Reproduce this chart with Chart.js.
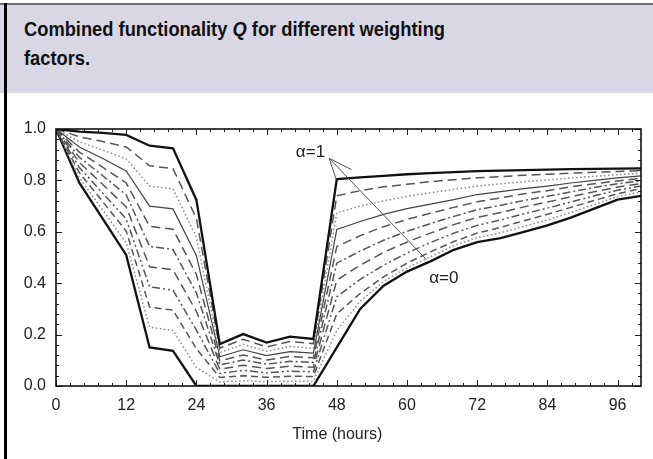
<!DOCTYPE html>
<html><head><meta charset="utf-8">
<script src="https://cdn.jsdelivr.net/npm/chart.js@4.4.1/dist/chart.umd.min.js"></script>
<style>
html,body{margin:0;padding:0;background:#fff;}
#wrap{position:relative;width:653px;height:459px;overflow:hidden;background:#fff;}
#topline{position:absolute;left:0;top:3px;width:653px;height:2px;background:#6f6f6f;}
#band{position:absolute;left:0;top:5px;width:653px;height:88px;background:#d9d7e6;}
#leftbar{position:absolute;left:4px;top:3px;width:3px;height:456px;background:#000;}
#title{position:absolute;left:24px;top:15px;font-family:"Liberation Sans",Arial,sans-serif;font-weight:bold;font-size:20px;line-height:29px;color:#111;white-space:nowrap;transform-origin:0 0;}
#cv{position:absolute;left:8px;top:92px;}
</style></head>
<body><div id="wrap">
<div id="band"></div><div id="topline"></div><div id="leftbar"></div>
<div id="title"><span id="l1">Combined functionality <i>Q</i> for different weighting</span><br>factors.</div>
<canvas id="cv" width="645" height="367"></canvas>
</div>
<script>
(function(){const w=document.getElementById('l1').getBoundingClientRect().width;document.getElementById('title').style.transform='scaleX('+(421/w)+')';})();

const hours = [0,4,8,12,16,20,24,28,32,36,40,44,48,52,56,60,64,68,72,76,80,84,88,92,96,100];
const xTickValues = [0,12,24,36,48,60,72,84,96];
const yTickValues = [0,0.2,0.4,0.6,0.8,1.0];
const alphaLabels = ["α=1","α=0"];
const xAxisTitle = "Time (hours)";
const q10 = [1.00,0.990,0.985,0.977,0.935,0.925,0.724,0.163,0.202,0.169,0.192,0.183,0.805,0.812,0.818,0.824,0.828,0.832,0.836,0.838,0.840,0.842,0.844,0.845,0.846,0.847];
const q09 = [1.00,0.970,0.951,0.930,0.857,0.846,0.652,0.147,0.182,0.152,0.173,0.165,0.740,0.760,0.775,0.785,0.795,0.803,0.810,0.815,0.820,0.824,0.828,0.832,0.835,0.838];
const q08 = [1.00,0.950,0.918,0.884,0.778,0.767,0.579,0.130,0.162,0.135,0.154,0.146,0.674,0.700,0.720,0.738,0.752,0.765,0.778,0.787,0.795,0.802,0.809,0.816,0.822,0.828];
const q07 = [1.00,0.930,0.885,0.837,0.700,0.689,0.507,0.114,0.141,0.118,0.134,0.128,0.609,0.640,0.668,0.690,0.708,0.725,0.745,0.756,0.768,0.778,0.790,0.800,0.810,0.818];
const q06 = [1.00,0.910,0.851,0.790,0.621,0.610,0.434,0.098,0.121,0.101,0.115,0.110,0.543,0.585,0.620,0.648,0.672,0.695,0.717,0.732,0.748,0.760,0.775,0.787,0.798,0.808];
const q05 = [1.00,0.890,0.818,0.744,0.543,0.531,0.362,0.082,0.101,0.085,0.096,0.092,0.478,0.525,0.567,0.602,0.632,0.660,0.686,0.703,0.722,0.738,0.755,0.772,0.787,0.798];
const q04 = [1.00,0.870,0.784,0.697,0.464,0.452,0.290,0.065,0.081,0.068,0.077,0.073,0.412,0.470,0.520,0.560,0.595,0.628,0.656,0.675,0.697,0.716,0.736,0.756,0.774,0.788];
const q03 = [1.00,0.850,0.750,0.650,0.386,0.373,0.217,0.049,0.061,0.051,0.058,0.055,0.347,0.415,0.470,0.517,0.558,0.595,0.625,0.646,0.670,0.692,0.716,0.740,0.762,0.778];
const q02 = [1.00,0.830,0.717,0.603,0.307,0.295,0.145,0.033,0.040,0.034,0.038,0.037,0.281,0.360,0.425,0.478,0.522,0.562,0.595,0.617,0.643,0.668,0.695,0.722,0.748,0.768];
const q01 = [1.00,0.810,0.684,0.557,0.229,0.216,0.072,0.016,0.020,0.017,0.019,0.018,0.216,0.330,0.407,0.460,0.503,0.546,0.577,0.596,0.621,0.646,0.675,0.706,0.737,0.755];
const q00 = [1.00,0.790,0.650,0.510,0.150,0.137,0.000,0.000,0.000,0.000,0.000,0.000,0.150,0.300,0.390,0.445,0.485,0.530,0.560,0.575,0.600,0.625,0.655,0.690,0.725,0.740];

const seriesList = [q10,q09,q08,q07,q06,q05,q04,q03,q02,q01,q00];
const seriesNames = ["α=1","α=0.9","α=0.8","α=0.7","α=0.6","α=0.5","α=0.4","α=0.3","α=0.2","α=0.1","α=0"];
const styles = [
  {c:'#111',w:2.3,d:[]},
  {c:'#555',w:1.5,d:[9,5]},
  {c:'#888',w:1.5,d:[1.5,2.5]},
  {c:'#444',w:1.2,d:[]},
  {c:'#555',w:1.5,d:[9,5]},
  {c:'#555',w:1.5,d:[8,3,2,3]},
  {c:'#555',w:1.5,d:[9,5]},
  {c:'#555',w:1.5,d:[8,3,2,3,2,3]},
  {c:'#555',w:1.5,d:[7,4]},
  {c:'#888',w:1.5,d:[1.5,2.5]},
  {c:'#111',w:2.3,d:[]}
];
const datasets = seriesList.map((s,i)=>({
  label: seriesNames[i],
  data: hours.map((h,j)=>({x:h,y:s[j]})),
  borderColor: styles[i].c, borderWidth: styles[i].w, borderDash: styles[i].d,
  pointRadius:0, tension:0, fill:false
}));

const framePlugin = {
  id:'frame',
  afterDatasetsDraw(chart){
    const {ctx, chartArea:a, scales:{x,y}} = chart;
    ctx.save();
    ctx.strokeStyle='#222'; ctx.lineWidth=1;
    for(let i=0;i<=45;i++){
      const v=i*2.4; if(v>100.001) break;
      const px=Math.round(x.getPixelForValue(v))+0.5, L=(i%5===0)?6:3;
      ctx.beginPath(); ctx.moveTo(px,a.bottom); ctx.lineTo(px,a.bottom-L);
      ctx.moveTo(px,a.top); ctx.lineTo(px,a.top+L); ctx.stroke();
    }
    for(let i=0;i<=25;i++){
      const v=i*0.04; const py=Math.round(y.getPixelForValue(v))+0.5, L=(i%5===0)?6:3;
      ctx.beginPath(); ctx.moveTo(a.left,py); ctx.lineTo(a.left+L,py);
      ctx.moveTo(a.right,py); ctx.lineTo(a.right-L,py); ctx.stroke();
    }
    ctx.strokeStyle='#111'; ctx.lineWidth=1.6;
    ctx.strokeRect(a.left,a.top,a.right-a.left,a.bottom-a.top);
    const P=(h,v)=>[x.getPixelForValue(h),y.getPixelForValue(v)];
    const tip=P(46.7,0.886);
    ctx.strokeStyle='#555'; ctx.lineWidth=1;
    [[47.9,0.804],[50.5,0.842],[63.3,0.492]].forEach(e=>{
      const p=P(e[0],e[1]); ctx.beginPath(); ctx.moveTo(tip[0],tip[1]); ctx.lineTo(p[0],p[1]); ctx.stroke();
    });
    ctx.fillStyle='#222'; ctx.font='17px "Liberation Sans", Arial, sans-serif';
    ctx.textAlign='center'; ctx.textBaseline='middle';
    let t=P(43.5,0.91); ctx.fillText(alphaLabels[0],t[0],t[1]);
    t=P(66.3,0.42); ctx.fillText(alphaLabels[1],t[0],t[1]);
    ctx.font='16px "Liberation Sans", Arial, sans-serif';
    ctx.fillText(xAxisTitle, x.getPixelForValue(48.1), a.bottom+49);
    ctx.restore();
  }
};

new Chart(document.getElementById('cv'),{
  type:'line',
  data:{datasets},
  options:{
    responsive:false, animation:false, devicePixelRatio:1,
    layout:{padding:{top:37,right:12,left:0,bottom:0}},
    plugins:{legend:{display:false},tooltip:{enabled:false}},
    scales:{
      x:{type:'linear',min:0,max:100,
        afterBuildTicks:s=>{s.ticks=xTickValues.map(v=>({value:v}));},
        afterFit:s=>{s.height=73;},
        grid:{display:false,drawTicks:false},border:{display:false},
        ticks:{padding:10,color:'#222',font:{family:'"Liberation Sans", Arial, sans-serif',size:16},maxRotation:0}
      },
      y:{type:'linear',min:0,max:1,
        afterBuildTicks:s=>{s.ticks=yTickValues.map(v=>({value:v}));},
        afterFit:s=>{s.width=48;},
        grid:{display:false,drawTicks:false},border:{display:false},
        ticks:{padding:10,color:'#222',font:{family:'"Liberation Sans", Arial, sans-serif',size:16},callback:v=>Number(v).toFixed(1)}
      }
    }
  },
  plugins:[framePlugin]
});
</script>
</body></html>
